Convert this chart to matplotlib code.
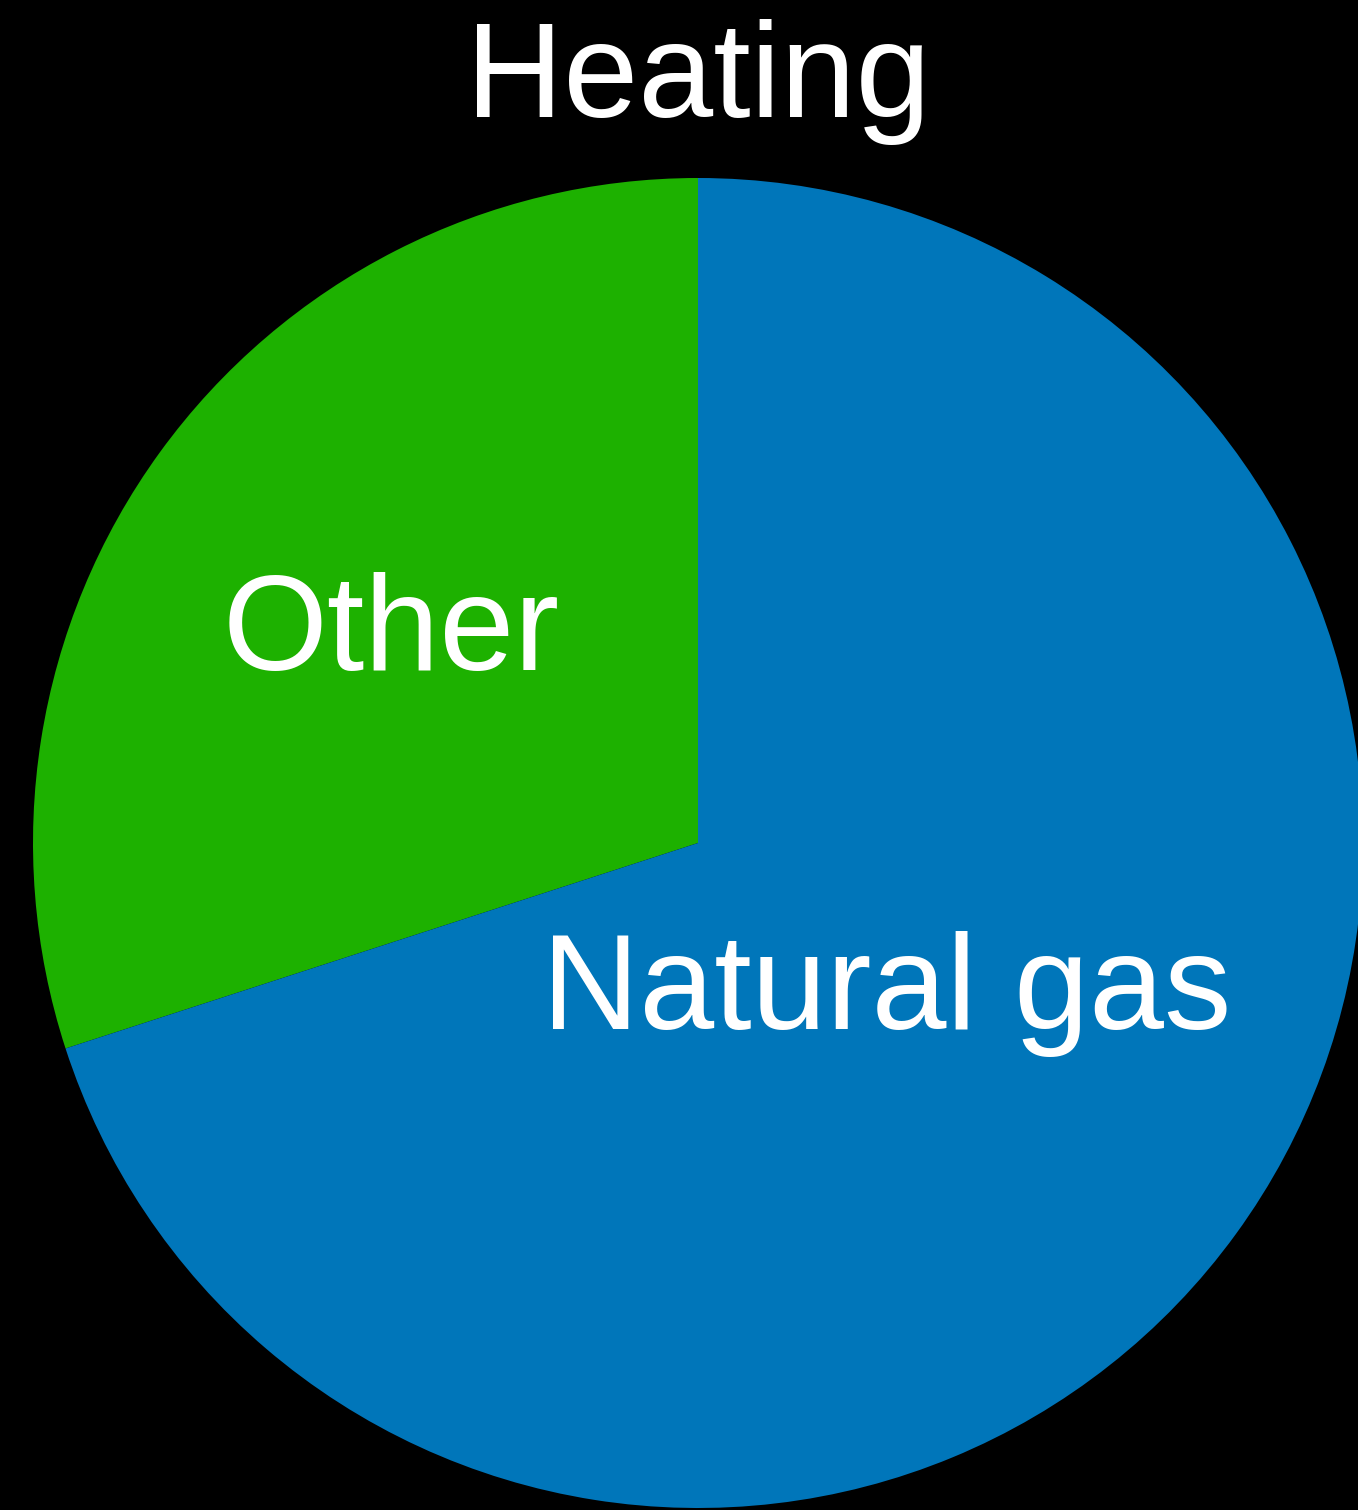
import numpy as np
import matplotlib.pyplot as plt

labels = ['Other', 'Natural gas']
shares = [30, 70]
colors = ['#1db100', '#0076ba']
label_radius = [0.57, 0.35]

plt.rcParams['font.family'] = ['Liberation Sans', 'DejaVu Sans']

fig = plt.figure(figsize=(13.58, 15.10), dpi=100, facecolor='black')
ax = fig.add_axes([33 / 1358, 2 / 1510, 1330 / 1358, 1330 / 1510])
ax.set_facecolor('black')

wedges, _ = ax.pie(shares, colors=colors, startangle=90, counterclock=True,
                   radius=1, wedgeprops=dict(linewidth=0))

# labels sit a little below the wedge's mid-ray
for w, lab, r in zip(wedges, labels, label_radius):
    mid = np.deg2rad((w.theta1 + w.theta2) / 2)
    ax.text(r * np.cos(mid), r * np.sin(mid) - 0.022, lab, color='white',
            fontsize=97, ha='center', va='center')

ax.set_xlim(-1, 1)
ax.set_ylim(-1, 1)
ax.set_aspect('equal')
ax.axis('off')

fig.text(698 / 1358, 1 - 82 / 1510, 'Heating', color='white', fontsize=97,
         ha='center', va='center')

fig.savefig('out.png', facecolor='black')
